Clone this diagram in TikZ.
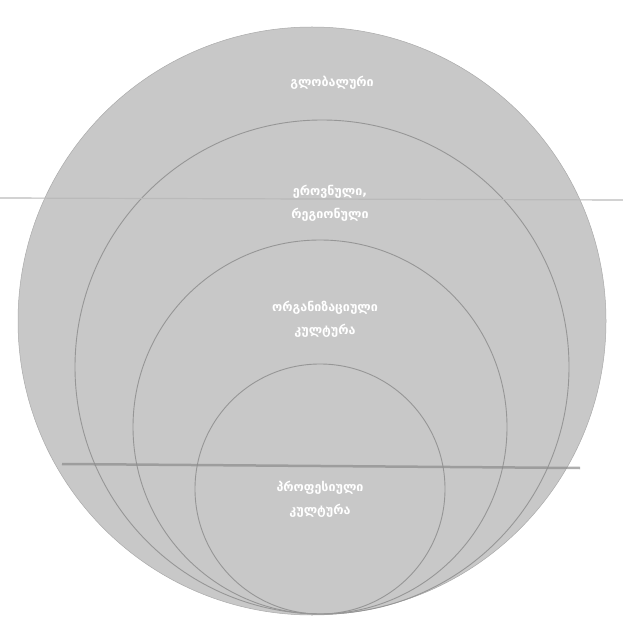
\documentclass[tikz,border=0pt]{standalone}
\usepackage{fontspec}
\newfontfamily\geofont{DejaVu Sans}
\definecolor{discfill}{RGB}{200,200,200}
\definecolor{ringline}{RGB}{150,150,150}
\definecolor{scanline}{RGB}{140,140,140}
\begin{document}
\begin{tikzpicture}[x=1pt,y=1pt,
  ring/.style={circle,draw=ringline,line width=0.9pt,inner sep=0pt},
  lbl/.style={text=white,font=\geofont\bfseries\fontsize{12.5}{23}\selectfont,align=center,inner sep=0pt}]
\useasboundingbox[fill=white] (0,0) rectangle (623,622);
\node[circle,fill=discfill,draw=discfill!85!black,line width=0.5pt,inner sep=0pt,minimum size=588pt] (c1) at (312,301) {};
\node[ring,minimum size=494pt] (c2) at (322,255) {};
\node[ring,minimum size=374pt] (c3) at (320,195) {};
\node[ring,minimum size=250pt] (c4) at (320,133) {};
% scan artefacts
\draw[scanline!60!white,line width=1.2pt] (0,424) -- (623,422);
\draw[scanline,line width=2.5pt,opacity=0.7] (62,158) -- (580,154);
\node[lbl] (t1) at (332,539) {გლობალური};
\node[lbl] (t2) at (330,419) {ეროვნული,\\რეგიონული};
\node[lbl] (t3) at (325,303) {ორგანიზაციული\\კულტურა};
\node[lbl] (t4) at (320,123) {პროფესიული\\კულტურა};
\end{tikzpicture}
\end{document}
